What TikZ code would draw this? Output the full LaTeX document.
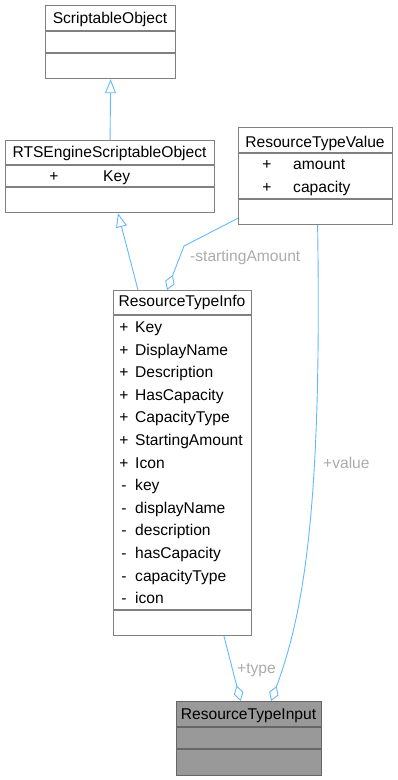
\documentclass[tikz,border=0pt]{standalone}
\usepackage{fontspec}
\setmainfont{Liberation Sans}
\usetikzlibrary{arrows.meta}

\definecolor{edgeblue}{HTML}{63B8FF}
\definecolor{boxgrey}{HTML}{808080}
\definecolor{labelgrey}{HTML}{ABABAB}
\definecolor{focusfill}{HTML}{999999}
\definecolor{focusline}{HTML}{666666}

\tikzset{
  classbox/.style={draw=boxgrey, line width=1.2pt, fill=white, anchor=north west, inner sep=0pt},
  divider/.style={draw=boxgrey, line width=1.2pt},
  member/.style={anchor=west, inner sep=0pt, text height=11pt, text depth=3pt},
  vis/.style={inner sep=0pt, text height=11pt, text depth=3pt},
  inherit/.style={draw=edgeblue, line width=0.9pt, -{Triangle[open,length=14pt,width=11pt]}},
  aggr/.style={draw=edgeblue, line width=0.9pt, {Diamond[open,length=16pt,width=10pt]}-},
  edgelabel/.style={text=labelgrey, anchor=west, inner sep=0pt},
}

\begin{document}
\begin{tikzpicture}[x=1pt, y=-1pt, every node/.style={font=\fontsize{15.6}{18}\selectfont}]
  \useasboundingbox (0,0) rectangle (397,780);

  % class boxes
  \node[classbox, minimum width=130pt, minimum height=73pt] (so) at (45,5) {};
  \node[classbox, minimum width=209pt, minimum height=72pt] (rtso) at (5,140) {};
  \node[classbox, minimum width=154pt, minimum height=97pt] (rtv) at (238,127) {};
  \node[classbox, minimum width=138pt, minimum height=345pt] (rti) at (113,290) {};
  \node[classbox, draw=focusline, fill=focusfill, minimum width=145pt, minimum height=74pt] (rtin) at (176,701) {};

  % compartments
  \draw[divider] (so.west |- 0,31) -- (so.east |- 0,31);
  \draw[divider] (so.west |- 0,53) -- (so.east |- 0,53);
  \draw[divider] (rtso.west |- 0,165) -- (rtso.east |- 0,165);
  \draw[divider] (rtso.west |- 0,187) -- (rtso.east |- 0,187);
  \draw[divider] (rtv.west |- 0,153) -- (rtv.east |- 0,153);
  \draw[divider] (rtv.west |- 0,199) -- (rtv.east |- 0,199);
  \draw[divider] (rti.west |- 0,315) -- (rti.east |- 0,315);
  \draw[divider] (rti.west |- 0,610) -- (rti.east |- 0,610);
  \draw[divider, draw=focusline] (rtin.west |- 0,727) -- (rtin.east |- 0,727);
  \draw[divider, draw=focusline] (rtin.west |- 0,749) -- (rtin.east |- 0,749);

  % names and members
  \node (so-name) at (110,19) {ScriptableObject};
  \node (rtso-name) at (109.5,153) {RTSEngineScriptableObject};
  \node[vis] (rtso-vis) at (54,177) {+};
  \node[member] (rtso-key) at (103,177) {Key};

  \node (rtv-name) at (315,143) {ResourceTypeValue};
  \node[vis] (rtv-vis1) at (267,165) {+};
  \node[member] (rtv-amount) at (293,165) {amount};
  \node[vis] (rtv-vis2) at (267,188) {+};
  \node[member] (rtv-capacity) at (293,188) {capacity};

  \node (rti-name) at (182,302) {ResourceTypeInfo};
  \foreach \v/\m [count=\i from 0] in {+/Key, +/DisplayName, +/Description,
      +/HasCapacity, +/CapacityType, +/StartingAmount, +/Icon, -/key,
      -/displayName, -/description, -/hasCapacity, -/capacityType, -/icon} {
    \node[vis] (rti-vis-\i) at (124, 328.5+22.6*\i) {\v};
    \node[member] (rti-mem-\i) at (135, 328.5+22.6*\i) {\m};
  }

  \node (rtin-name) at (248.5,716) {ResourceTypeInput};

  % generalisation
  \draw[inherit] (rtso.north) -- (so.south);
  \draw[inherit] ([xshift=25pt]rti.north west) -- ([xshift=113pt]rtso.south west);

  % aggregation
  \coordinate (bend) at (184,246);
  \draw[aggr] ([xshift=54pt]rti.north west) -- (bend) -- ([yshift=7pt]rtv.south west);
  \draw[aggr] ([xshift=-8.5pt]rtin.north) -- ([xshift=111pt]rti.south west);
  \draw[aggr] ([xshift=22pt]rtin.north) .. controls (305,610) and (322,500) .. ([xshift=2pt]rtv.south);

  \node[edgelabel] (lbl-start) at (190,257) {-startingAmount};
  \node[edgelabel] (lbl-value) at (323,463) {+value};
  \node[edgelabel] (lbl-type) at (237,670) {+type};
\end{tikzpicture}
\end{document}
